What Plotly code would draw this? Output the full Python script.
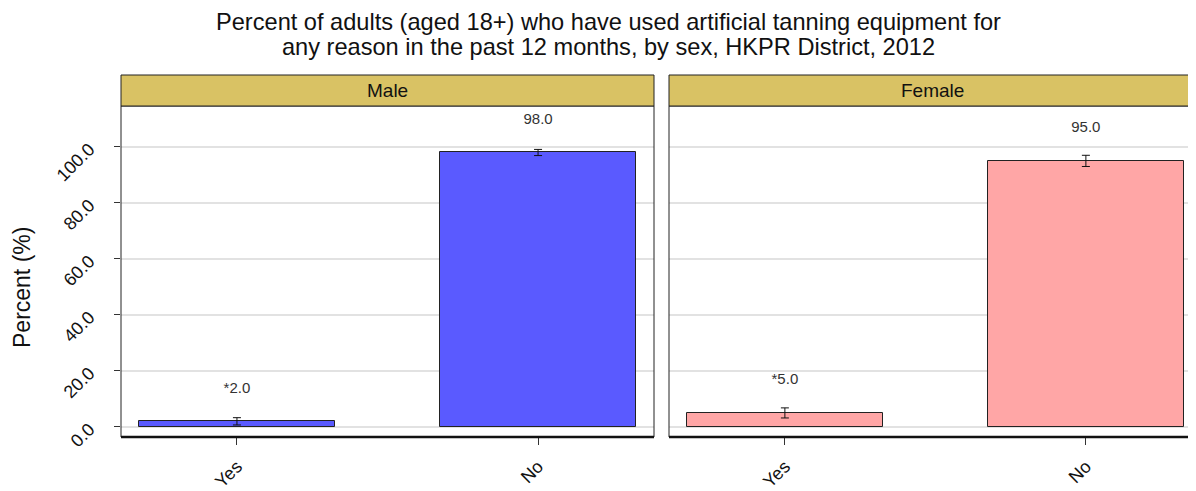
import plotly.graph_objects as go

title_lines = ["Percent of adults (aged 18+) who have used artificial tanning equipment for",
               "any reason in the past 12 months, by sex, HKPR District, 2012"]
panels = ["Male", "Female"]
categories = ["Yes", "No"]
male_values = [2.0, 98.0]
male_err = [1.3, 1.1]
male_labels = ["*2.0", "98.0"]
female_values = [5.0, 95.0]
female_err = [1.8, 2.0]
female_labels = ["*5.0", "95.0"]
colors = {"Male": "#5A5AFF", "Female": "#FFA6A6"}
yticks = [0, 20, 40, 60, 80, 100]
label_offset = 11.5

OFF = 8  # page body margin
W, H = 1196 - OFF, 491 - OFF
FONT = "Liberation Sans, Arial, sans-serif"

fig = go.Figure()

data = {
    "Male": (male_values, male_err, male_labels),
    "Female": (female_values, female_err, female_labels),
}
xpos = [1, 2]

def px_x(p):
    return (p - OFF) / W

def px_y(p):
    return 1 - (p - OFF) / H

dom1 = [px_x(121), px_x(654)]
dom2 = [px_x(669), 1.0]
ydom = [px_y(437), px_y(106)]
strip_top = px_y(75)
xr2_right = 0.615 + (1196 - 669) / 301.0

for i, name in enumerate(panels):
    vals, err, labs = data[name]
    xa = "x" if i == 0 else "x2"
    ya = "y" if i == 0 else "y2"
    fig.add_trace(go.Bar(
        x=xpos, y=vals, width=0.65,
        marker=dict(color=colors[name], line=dict(color="#222222", width=1)),
        error_y=dict(type="data", array=err, color="#111111", thickness=1, width=4),
        xaxis=xa, yaxis=ya, showlegend=False, hoverinfo="skip",
    ))
    fig.add_trace(go.Scatter(
        x=xpos, y=[v + label_offset for v in vals], text=labs, mode="text",
        textfont=dict(family=FONT, size=15, color="#333333"),
        xaxis=xa, yaxis=ya, showlegend=False, hoverinfo="skip",
    ))

axis_common = dict(
    tickvals=xpos, ticktext=categories, tickangle=-45,
    tickfont=dict(family=FONT, size=18, color="#111111"),
    ticks="outside", ticklen=7, tickcolor="#333333", ticklabelstandoff=4,
    showgrid=False, zeroline=False, showline=False, automargin=False,
)
yaxis_common = dict(
    domain=ydom, range=[-3.6, 114.6], tickvals=yticks,
    showgrid=True, gridcolor="#E2E2E2", gridwidth=1.5, zeroline=False,
    showline=False, automargin=False,
)
fig.update_layout(
    width=W, height=H,
    margin=dict(l=0, r=0, t=0, b=0, autoexpand=False),
    paper_bgcolor="white", plot_bgcolor="white",
    bargap=0,
    xaxis=dict(domain=dom1, range=[0.615, 2.385], anchor="y", **axis_common),
    xaxis2=dict(domain=dom2, range=[0.615, xr2_right], anchor="y2", **axis_common),
    yaxis=dict(
        anchor="x",
        ticktext=[f"{v:.1f}" for v in yticks], tickangle=-45,
        tickfont=dict(family=FONT, size=18, color="#111111"),
        ticks="outside", ticklen=6, tickcolor="#333333", ticklabelstandoff=21,
        **yaxis_common,
    ),
    yaxis2=dict(anchor="x2", showticklabels=False, ticks="", **yaxis_common),
)

# title (two lines)
for line, ypx in zip(title_lines, [22, 47]):
    fig.add_annotation(text=line, xref="paper", yref="paper",
                       x=px_x(608), y=px_y(ypx), xanchor="center", yanchor="middle",
                       showarrow=False,
                       font=dict(family=FONT, size=23.6, color="#111111"))
# y axis title
fig.add_annotation(text="Percent (%)", xref="paper", yref="paper",
                   x=px_x(22), y=px_y(288), textangle=-90,
                   xanchor="center", yanchor="middle", showarrow=False,
                   font=dict(family=FONT, size=23, color="#111111"))

shapes = []
for i, name in enumerate(panels):
    xr = "x domain" if i == 0 else "x2 domain"
    shapes.append(dict(type="rect", xref=xr, yref="paper", x0=0, x1=1,
                       y0=ydom[0], y1=ydom[1], fillcolor="rgba(0,0,0,0)",
                       line=dict(color="#222222", width=1), layer="above"))
    shapes.append(dict(type="rect", xref=xr, yref="paper", x0=0, x1=1,
                       y0=ydom[1], y1=strip_top, fillcolor="#D9C264",
                       line=dict(color="#222222", width=1), layer="above"))
    shapes.append(dict(type="line", xref=xr, yref="paper", x0=0, x1=1,
                       y0=ydom[0], y1=ydom[0], line=dict(color="#111111", width=2.5),
                       layer="above"))
    fig.add_annotation(text=name, xref=xr, yref="paper", x=0.5,
                       y=(ydom[1] + strip_top) / 2, xanchor="center", yanchor="middle",
                       showarrow=False,
                       font=dict(family=FONT, size=19, color="#111111"))
fig.update_layout(shapes=shapes)

fig.write_html("out.html")
